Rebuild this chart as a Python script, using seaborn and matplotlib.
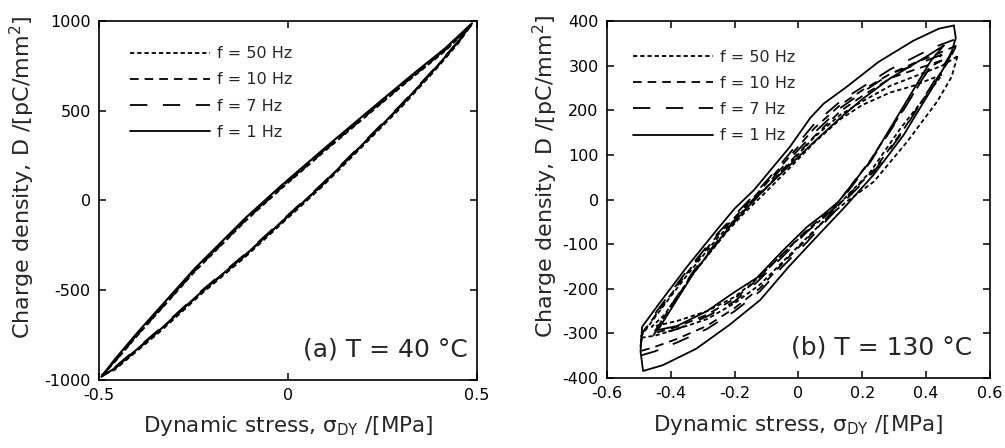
import pandas as pd
import matplotlib.pyplot as plt
import seaborn as sns

# --- data ---
freq_order = ['f = 50 Hz', 'f = 10 Hz', 'f = 7 Hz', 'f = 1 Hz']

# (a) T = 40 C : one closed loop per frequency (upper branch out, lower branch back)
sig_a_1 = [-0.493, -0.458, -0.396, -0.32, -0.246, -0.18, -0.113, -0.016, 0.107, 0.222, 0.328, 0.416, 0.487,
           0.451, 0.390, 0.301, 0.196, 0.090, -0.016, -0.113, -0.228, -0.334, -0.458]
D_a_1 = [-981, -885, -731, -552, -378, -240, -99, 86, 309, 513, 699, 848, 987,
         885, 736, 532, 309, 86, -118, -304, -508, -712, -935]
sig_a_7 = [-0.492, -0.458, -0.396, -0.32, -0.246, -0.18, -0.113, -0.016, 0.107, 0.222, 0.328, 0.416, 0.485,
           0.451, 0.390, 0.301, 0.196, 0.090, -0.016, -0.113, -0.228, -0.334, -0.458]
D_a_7 = [-978, -892, -739, -560, -386, -248, -107, 78, 301, 505, 692, 842, 980,
         888, 740, 537, 314, 91, -113, -299, -503, -707, -930]
sig_a_10 = [-0.492, -0.458, -0.396, -0.32, -0.246, -0.18, -0.113, -0.016, 0.107, 0.222, 0.328, 0.416, 0.484,
            0.451, 0.390, 0.301, 0.196, 0.090, -0.016, -0.113, -0.228, -0.334, -0.458]
D_a_10 = [-976, -896, -743, -565, -390, -252, -111, 74, 297, 501, 688, 838, 976,
          884, 735, 531, 308, 85, -119, -306, -510, -714, -936]
sig_a_50 = [-0.49, -0.458, -0.396, -0.32, -0.246, -0.18, -0.113, -0.016, 0.107, 0.222, 0.328, 0.416, 0.482,
            0.451, 0.390, 0.301, 0.196, 0.090, -0.016, -0.113, -0.228, -0.334, -0.458]
D_a_50 = [-972, -898, -746, -568, -394, -256, -115, 70, 293, 497, 684, 834, 970,
          878, 728, 523, 300, 77, -127, -314, -518, -722, -942]

# (b) T = 130 C : outer and inner loop per frequency
sig_b_1_out = [0.487, 0.44, 0.36, 0.25, 0.15, 0.079, 0.037, -0.026, -0.09, -0.14, -0.20, -0.256, -0.35, -0.444,
               -0.49, -0.495, -0.487, -0.425, -0.32, -0.215, -0.12, -0.03, 0.068, 0.142, 0.236, 0.33, 0.425,
               0.475, 0.493]
D_b_1_out = [390, 383, 356, 308, 252, 215, 183, 119, 64, 21, -20, -68, -151, -240,
             -285, -340, -384, -371, -334, -280, -225, -150, -75, -19, 56, 145, 257,
             320, 362]
sig_b_1_in = [0.455, 0.40, 0.288, 0.20, 0.131, 0.05, -0.026, -0.109, -0.17, -0.224, -0.329, -0.434, -0.445,
              -0.38, -0.287, -0.20, -0.13, -0.05, 0.027, 0.08, 0.125, 0.225, 0.32, 0.414]
D_b_1_in = [345, 320, 272, 225, 183, 130, 78, 21, -25, -68, -165, -285, -293,
            -283, -250, -207, -175, -115, -61, -32, -5, 86, 198, 310]

sig_b_7_out = [0.487, 0.42, 0.36, 0.288, 0.2, 0.131, 0.05, -0.026, -0.09, -0.14, -0.2, -0.256, -0.35, -0.444,
               -0.49, -0.497, -0.45, -0.38, -0.287, -0.2, -0.12, -0.05, 0.027, 0.09, 0.142, 0.236, 0.33,
               0.425, 0.47, 0.49]
D_b_7_out = [358, 340, 318, 292, 252, 220, 170, 105, 50, 10, -35, -78, -160, -250,
             -300, -350, -340, -320, -290, -250, -205, -150, -95, -45, -5, 62, 155,
             265, 318, 345]
sig_b_7_in = [0.45, 0.36, 0.288, 0.2, 0.131, 0.05, -0.026, -0.109, -0.17, -0.224, -0.329, -0.42, -0.455,
              -0.38, -0.287, -0.2, -0.13, -0.05, 0.027, 0.08, 0.125, 0.225, 0.32, 0.414]
D_b_7_in = [325, 300, 282, 240, 205, 150, 92, 25, -20, -66, -160, -260, -305,
            -290, -262, -228, -185, -128, -72, -40, -10, 84, 190, 300]

sig_b_10_out = [0.495, 0.43, 0.36, 0.288, 0.2, 0.131, 0.05, -0.026, -0.09, -0.14, -0.2, -0.256, -0.35, -0.444,
                -0.49, -0.497, -0.45, -0.38, -0.287, -0.2, -0.12, -0.05, 0.027, 0.09, 0.142, 0.236, 0.33,
                0.425, 0.47]
D_b_10_out = [345, 325, 305, 282, 245, 212, 160, 98, 45, 5, -40, -82, -165, -255,
              -300, -340, -330, -312, -283, -243, -198, -143, -88, -40, 0, 66, 158,
              262, 310]
sig_b_10_in = [0.45, 0.36, 0.288, 0.2, 0.131, 0.05, -0.026, -0.109, -0.17, -0.224, -0.329, -0.42, -0.455,
               -0.38, -0.287, -0.2, -0.13, -0.05, 0.027, 0.08, 0.125, 0.225, 0.32, 0.414]
D_b_10_in = [312, 290, 272, 232, 198, 142, 85, 20, -25, -70, -163, -262, -300,
             -285, -258, -222, -180, -122, -68, -36, -6, 88, 192, 298]

sig_b_50_out = [0.498, 0.45, 0.36, 0.288, 0.2, 0.131, 0.05, -0.026, -0.09, -0.14, -0.2, -0.256, -0.35, -0.444,
                -0.497, -0.45, -0.38, -0.287, -0.2, -0.12, -0.05, 0.027, 0.09, 0.15, 0.236, 0.341, 0.435,
                0.48]
D_b_50_out = [321, 300, 275, 255, 220, 190, 140, 82, 35, 0, -45, -88, -170, -258,
              -310, -305, -290, -268, -232, -190, -140, -85, -40, -5, 40, 130, 220,
              275]
sig_b_50_in = [0.45, 0.36, 0.288, 0.2, 0.131, 0.05, -0.026, -0.109, -0.17, -0.224, -0.329, -0.42, -0.46,
               -0.38, -0.287, -0.2, -0.13, -0.05, 0.027, 0.08, 0.13, 0.225, 0.32, 0.414]
D_b_50_in = [280, 255, 240, 212, 180, 128, 72, 12, -30, -72, -165, -258, -285,
             -272, -250, -218, -178, -122, -70, -40, -8, 62, 160, 245]

loops_a = {
    'f = 50 Hz': [(sig_a_50, D_a_50)],
    'f = 10 Hz': [(sig_a_10, D_a_10)],
    'f = 7 Hz': [(sig_a_7, D_a_7)],
    'f = 1 Hz': [(sig_a_1, D_a_1)],
}
loops_b = {
    'f = 50 Hz': [(sig_b_50_out, D_b_50_out), (sig_b_50_in, D_b_50_in)],
    'f = 10 Hz': [(sig_b_10_out, D_b_10_out), (sig_b_10_in, D_b_10_in)],
    'f = 7 Hz': [(sig_b_7_out, D_b_7_out), (sig_b_7_in, D_b_7_in)],
    'f = 1 Hz': [(sig_b_1_out, D_b_1_out), (sig_b_1_in, D_b_1_in)],
}


def to_long(loops):
    # long table, each loop closed back to its first point
    frames = []
    for freq, parts in loops.items():
        for i, (s, d) in enumerate(parts):
            frames.append(pd.DataFrame({'sigma': list(s) + [s[0]], 'D': list(d) + [d[0]],
                                        'freq': freq, 'part': i}))
    return pd.concat(frames, ignore_index=True)


df_a = to_long(loops_a)
df_b = to_long(loops_b)

# --- style ---
sns.set_style('ticks')
plt.rcParams['font.family'] = ['DejaVu Sans']
plt.rcParams['axes.unicode_minus'] = False
plt.rcParams['axes.linewidth'] = 1.2

dash_map = {'f = 50 Hz': (2.4, 1.6), 'f = 10 Hz': (4.8, 3.3), 'f = 7 Hz': (9.6, 8.6), 'f = 1 Hz': ''}

fig = plt.figure(figsize=(10.05, 4.48), dpi=100)
ax_a = fig.add_axes([0.0985, 0.152, 0.376, 0.801])
ax_b = fig.add_axes([0.604, 0.156, 0.381, 0.797])

panels = [
    (ax_a, df_a, (-0.5, 0.5), [-0.5, 0, 0.5], (-1000, 1000), [-1000, -500, 0, 500, 1000],
     '(a) T = 40 °C', (0.976, 0.086), (0.082, 0.93), -0.163, 1.5),
    (ax_b, df_b, (-0.6, 0.6), [-0.6, -0.4, -0.2, 0, 0.2, 0.4, 0.6], (-400, 400),
     [-400, -300, -200, -100, 0, 100, 200, 300, 400],
     '(b) T = 130 °C', (0.953, 0.087), (0.068, 0.92), -0.122, 1.3),
]

for ax, data, xlim, xt, ylim, yt, tag, tag_pos, leg_pos, ylab_x, lw in panels:
    sns.lineplot(data=data, x='sigma', y='D', style='freq', style_order=freq_order,
                 dashes=dash_map, units='part', estimator=None, sort=False,
                 color='black', linewidth=lw, ax=ax)
    ax.set_xlim(*xlim)
    ax.set_ylim(*ylim)
    ax.set_xticks(xt)
    ax.set_xticklabels([f'{v:g}' for v in xt])
    ax.set_yticks(yt)
    ax.tick_params(direction='in', length=5, width=1.1, top=True, right=True,
                   labelsize=11.5, pad=6, colors='black')
    ax.set_xlabel('Dynamic stress, σ$_{\\mathrm{DY}}$ /[MPa]', fontsize=15.5, labelpad=8)
    ax.set_ylabel('Charge density, D /[pC/mm$^2$]', fontsize=16)
    ax.yaxis.set_label_coords(ylab_x, 0.565)
    ax.text(tag_pos[0], tag_pos[1], tag, transform=ax.transAxes, ha='right', va='center', fontsize=18)

    handles, labels = ax.get_legend_handles_labels()
    for h in handles:
        h.set_color('black')
        h.set_linewidth(1.3)
    ax.legend(handles, labels, loc='upper left', bbox_to_anchor=leg_pos, frameon=False,
              fontsize=11.5, handlelength=5.0, handletextpad=0.45, labelspacing=0.7,
              borderpad=0, borderaxespad=0)
    for sp in ax.spines.values():
        sp.set_color('black')

fig.savefig('out.png', dpi=100)
